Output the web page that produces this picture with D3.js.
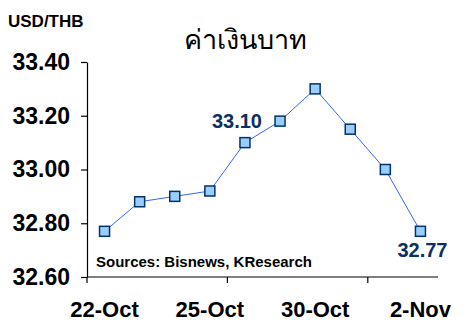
<!DOCTYPE html>
<html><head><meta charset="utf-8">
<script src="https://cdn.jsdelivr.net/npm/d3@7"></script>
<style>
html,body{margin:0;padding:0;background:#fff;}
svg{display:block;}
text{font-family:Arial,"Liberation Sans",sans-serif;}
</style></head>
<body>
<script>
const categories = ["22-Oct","23-Oct","24-Oct","25-Oct","26-Oct","29-Oct","30-Oct","31-Oct","1-Nov","2-Nov"];
const values = [32.77, 32.88, 32.90, 32.92, 33.10, 33.18, 33.30, 33.15, 33.00, 32.77];
const shownLabels = ["22-Oct","25-Oct","30-Oct","2-Nov"];
const yTicks = [32.60, 32.80, 33.00, 33.20, 33.40];
const pointLabels = [{i:4, text:"33.10"}, {i:9, text:"32.77"}];
const title = "ค่าเงินบาท";
const unit = "USD/THB";
const source = "Sources: Bisnews, KResearch";

const W = 468, H = 336;
const svg = d3.select("body").append("svg").attr("width", W).attr("height", H);

const x = d3.scaleBand().domain(categories).range([87, 438]).padding(0);
const y = d3.scaleLinear().domain([32.60, 33.40]).range([277, 62]);

// Y axis
const yAxis = svg.append("g").attr("transform", "translate(87,0)")
  .call(d3.axisLeft(y).tickValues(yTicks).tickFormat(d3.format(".2f")).tickSize(6).tickSizeOuter(0));
yAxis.select(".domain").attr("stroke", "#000").attr("stroke-width", 1.2);
yAxis.selectAll(".tick line").attr("stroke", "#000").attr("stroke-width", 1.2);
yAxis.selectAll(".tick text").attr("x", -17).attr("font-size", 23).attr("font-weight", "bold")
  .attr("fill", "#000").attr("font-family", "Arial, 'Liberation Sans', sans-serif");

// X axis: boundary ticks every 4 bands
const xAxisG = svg.append("g").attr("transform", "translate(0,277)");
xAxisG.append("line").attr("x1", x.range()[0]).attr("x2", x.range()[1])
  .attr("stroke", "#000").attr("stroke-width", 1.2);
const boundaryIdx = [0, 4, 8];
xAxisG.selectAll("line.tk").data(boundaryIdx).enter().append("line").attr("class","tk")
  .attr("x1", d => x(categories[d])).attr("x2", d => x(categories[d]))
  .attr("y1", 0).attr("y2", 6).attr("stroke", "#000").attr("stroke-width", 1.2);
xAxisG.selectAll("text").data(shownLabels).enter().append("text")
  .attr("x", d => x(d) + x.bandwidth()/2).attr("y", 40)
  .attr("text-anchor", "middle").attr("font-size", 22).attr("font-weight", "bold")
  .text(d => d);

// Line
const line = d3.line().x((d,i) => x(categories[i]) + x.bandwidth()/2).y(d => y(d));
svg.append("path").datum(values).attr("d", line)
  .attr("fill", "none").attr("stroke", "#3366FF").attr("stroke-width", 1);

// Markers
const ms = 10;
svg.selectAll("rect.m").data(values).enter().append("rect").attr("class","m")
  .attr("x", (d,i) => x(categories[i]) + x.bandwidth()/2 - ms/2)
  .attr("y", d => y(d) - ms/2)
  .attr("width", ms).attr("height", ms)
  .attr("fill", "#99CCFF").attr("stroke", "#003366").attr("stroke-width", 1.5);

// Point labels
const offs = {4:{dx:-8, dy:-15}, 9:{dx:2, dy:26}};
svg.selectAll("text.pl").data(pointLabels).enter().append("text").attr("class","pl")
  .attr("x", d => x(categories[d.i]) + x.bandwidth()/2 + offs[d.i].dx)
  .attr("y", d => y(values[d.i]) + offs[d.i].dy)
  .attr("text-anchor", "middle").attr("font-size", 20).attr("font-weight", "bold")
  .attr("fill", "#0B2F5E").text(d => d.text);

// Texts
svg.append("text").attr("x", 8).attr("y", 27).attr("font-size", 17).attr("font-weight", "bold")
  .attr("fill", "#000").text(unit);
svg.append("text").attr("x", 245).attr("y", 49).attr("text-anchor", "middle").attr("font-size", 27)
  .attr("font-family", "'Noto Sans Thai', 'Noto Sans', 'DejaVu Sans', sans-serif")
  .attr("fill", "#000").text(title);
svg.append("text").attr("x", 96).attr("y", 267).attr("font-size", 15).attr("font-weight", "bold")
  .attr("fill", "#000").text(source);
</script>
</body></html>
